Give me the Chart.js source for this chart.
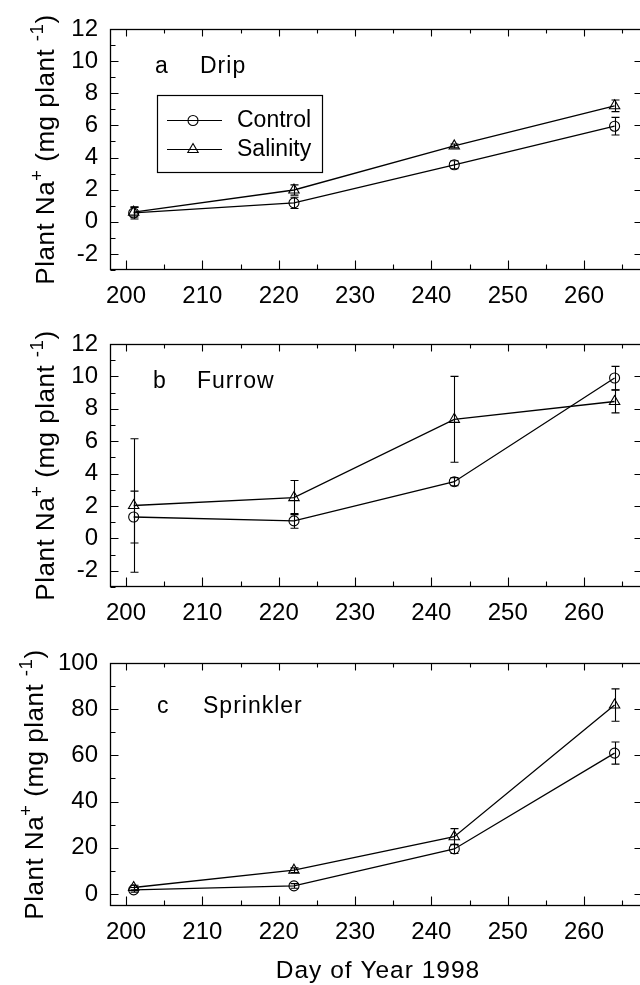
<!DOCTYPE html>
<html><head><meta charset="utf-8">
<script src="https://cdn.jsdelivr.net/npm/chart.js@4"></script>
<style>
html,body{margin:0;padding:0;background:#fff;}
#wrap{position:relative;width:640px;height:985px;overflow:hidden;background:#fff;}
.panel{position:absolute;left:0;width:640px;}
canvas{display:block;}
</style></head><body>
<div id="wrap">
 <div class="panel" style="top:0;height:320px"><canvas id="cA" width="640" height="320"></canvas></div>
 <div class="panel" style="top:320px;height:320px"><canvas id="cB" width="640" height="320"></canvas></div>
 <div class="panel" style="top:640px;height:345px"><canvas id="cC" width="640" height="345"></canvas></div>
</div>
<script>
// ---- data ----
const days = [201, 222, 243, 264];

const dripControl     = [0.55, 1.18, 3.55, 5.95];
const dripControlErr  = [0.38, 0.35, 0.25, 0.55];
const dripSalinity    = [0.60, 1.98, 4.72, 7.22];
const dripSalinityErr = [0.30, 0.32, 0.12, 0.36];

const furrowControl     = [1.32, 1.08, 3.50, 9.90];
const furrowControlErr  = [1.60, 0.45, 0.25, 0.72];
const furrowSalinity    = [2.03, 2.52, 7.35, 8.45];
const furrowSalinityErr = [4.12, 1.05, 2.65, 0.70];

const sprinklerControl     = [1.8, 3.5, 19.5, 61.0];
const sprinklerControlErr  = [1.0, 1.0, 2.0, 4.8];
const sprinklerSalinity    = [2.8, 10.3, 24.8, 81.8];
const sprinklerSalinityErr = [1.0, 1.0, 3.5, 7.0];

const seriesNames = ['Control', 'Salinity'];
const panelLetters = ['a', 'b', 'c'];
const panelNames = ['Drip', 'Furrow', 'Sprinkler'];

const xMajorTicks = [200, 210, 220, 230, 240, 250, 260];
const xMinorTicks = [205, 215, 225, 235, 245, 255, 265];
const yMajorTicksAB = [-2, 0, 2, 4, 6, 8, 10, 12];
const yMinorTicksAB = [-3, -1, 1, 3, 5, 7, 9, 11];
const yMajorTicksC = [0, 20, 40, 60, 80, 100];
const yMinorTicksC = [10, 30, 50, 70, 90];
const xAxisTitle = 'Day of Year 1998';

// ---- drawing ----
const FONT = '"Liberation Sans", Arial, Helvetica, sans-serif';

function seg(ctx, x1, y1, x2, y2) { ctx.moveTo(x1, y1); ctx.lineTo(x2, y2); }

function drawMarker(ctx, style, x, y, r) {
  ctx.beginPath();
  if (style === 'circle') {
    ctx.arc(x, y, r, 0, Math.PI * 2);
  } else {
    ctx.moveTo(x, y - r);
    ctx.lineTo(x + 0.866 * r, y + 0.5 * r);
    ctx.lineTo(x - 0.866 * r, y + 0.5 * r);
    ctx.closePath();
  }
  ctx.stroke();
}

function drawYTitle(ctx, xBase, cy) {
  const fs = 26;
  const parts = [['Plant Na', 1, 0], ['+', 0.72, 0.42], [' (mg plant ', 1, 0], ['-1', 0.72, 0.42], [')', 1, 0]];
  ctx.save();
  ctx.fillStyle = '#000';
  ctx.textBaseline = 'alphabetic';
  ctx.textAlign = 'left';
  try { ctx.letterSpacing = '0.5px'; } catch (e) {}
  let total = 0;
  const widths = parts.map(p => { ctx.font = (fs * p[1]) + 'px ' + FONT; const w = ctx.measureText(p[0]).width; total += w; return w; });
  ctx.translate(xBase, cy);
  ctx.rotate(-Math.PI / 2);
  let x = -total / 2;
  parts.forEach((p, i) => {
    ctx.font = (fs * p[1]) + 'px ' + FONT;
    ctx.fillText(p[0], x, -p[2] * fs);
    x += widths[i];
  });
  ctx.restore();
}

function makePanel(id, opt) {
  const ds = (name, ys, errs, style, r) => ({
    label: name,
    data: days.map((d, i) => ({ x: d, y: ys[i] })),
    errors: errs,
    borderColor: '#000',
    borderWidth: 1.3,
    backgroundColor: 'rgba(0,0,0,0)',
    pointStyle: style,
    pointRadius: r,
    pointBorderColor: '#000',
    pointBackgroundColor: 'rgba(0,0,0,0)',
    pointBorderWidth: 1.1,
    tension: 0,
    fill: false,
    clip: false
  });

  const plugin = {
    id: 'panelDecor' + id,
    beforeDatasetsDraw(chart) {
      const ctx = chart.ctx, ys = chart.scales.y;
      ctx.save();
      ctx.strokeStyle = '#000';
      ctx.lineWidth = 1.1;
      chart.data.datasets.forEach((d, di) => {
        const meta = chart.getDatasetMeta(di);
        d.errors.forEach((e, i) => {
          const pt = meta.data[i];
          const v = d.data[i].y;
          const y1 = ys.getPixelForValue(v + e), y2 = ys.getPixelForValue(v - e);
          const x = Math.round(pt.x) + 0.5;
          ctx.beginPath();
          seg(ctx, x, y1, x, y2);
          seg(ctx, x - 4, y1, x + 4, y1);
          seg(ctx, x - 4, y2, x + 4, y2);
          ctx.stroke();
        });
      });
      ctx.restore();
    },
    afterDraw(chart) {
      const ctx = chart.ctx, a = chart.chartArea, xs = chart.scales.x, ys = chart.scales.y;
      ctx.save();
      ctx.strokeStyle = '#000';
      ctx.lineWidth = 1.3;
      const L = Math.round(a.left) + 0.5, R = Math.round(a.right) - 0.5, T = Math.round(a.top) + 0.5, B = Math.round(a.bottom) - 0.5;
      ctx.strokeRect(L, T, R - L + 2, B - T);
      ctx.lineWidth = 1.1;
      ctx.beginPath();
      xMajorTicks.forEach(v => { const x = Math.round(xs.getPixelForValue(v)) + 0.5; seg(ctx, x, B, x, B - 9); seg(ctx, x, T, x, T + 7); });
      xMinorTicks.forEach(v => { const x = Math.round(xs.getPixelForValue(v)) + 0.5; seg(ctx, x, B, x, B - 5); seg(ctx, x, T, x, T + 4); });
      opt.yMajor.forEach(v => { const y = Math.round(ys.getPixelForValue(v)) + 0.5; seg(ctx, L, y, L + 8, y); seg(ctx, R + 1, y, R - 5, y); });
      opt.yMinor.forEach(v => { const y = Math.round(ys.getPixelForValue(v)) + 0.5; seg(ctx, L, y, L + 5, y); });
      ctx.stroke();

      // panel label
      ctx.fillStyle = '#000';
      ctx.font = '23px ' + FONT;
      try { ctx.letterSpacing = '1px'; } catch (e) {}
      ctx.textBaseline = 'alphabetic';
      ctx.textAlign = 'left';
      ctx.fillText(opt.letter, a.left + opt.labelDx[0], a.top + opt.labelDy);
      ctx.fillText(opt.name, a.left + opt.labelDx[1], a.top + opt.labelDy);
      try { ctx.letterSpacing = '0px'; } catch (e) {}

      // legend
      if (opt.legend) {
        ctx.lineWidth = 1.2;
        ctx.strokeRect(157.5, 95.5, 165, 77);
        const rows = [[120, 'circle', 5, seriesNames[0]], [149, 'triangle', 6, seriesNames[1]]];
        ctx.font = '23px ' + FONT;
        ctx.textBaseline = 'middle';
        rows.forEach(rw => {
          ctx.lineWidth = 1.2;
          ctx.beginPath(); seg(ctx, 167, rw[0] + 0.5, 222, rw[0] + 0.5); ctx.stroke();
          ctx.lineWidth = 1.1;
          drawMarker(ctx, rw[1], 193, rw[0] + 0.5, rw[2]);
          ctx.fillText(rw[3], 237, rw[0] + 1);
        });
      }

      // y title
      drawYTitle(ctx, opt.titleX, (a.top + a.bottom) / 2);

      // x title
      if (opt.xTitle) {
        ctx.font = '24.5px ' + FONT;
        try { ctx.letterSpacing = '1px'; } catch (e) {}
        ctx.textAlign = 'center';
        ctx.textBaseline = 'middle';
        ctx.fillText(xAxisTitle, 378, opt.xTitleY);
      }
      ctx.restore();
    }
  };

  return new Chart(document.getElementById(id), {
    type: 'line',
    data: { datasets: [ds(seriesNames[0], opt.ctrl, opt.ctrlErr, 'circle', 5), ds(seriesNames[1], opt.sal, opt.salErr, 'triangle', 6)] },
    options: {
      responsive: false,
      animation: false,
      layout: { autoPadding: false, padding: { top: opt.top, left: 0, right: 0, bottom: 0 } },
      plugins: { legend: { display: false }, tooltip: { enabled: false }, title: { display: false } },
      scales: {
        x: {
          type: 'linear', min: 197.9, max: 267.33,
          grid: { display: false, drawTicks: false },
          border: { display: false },
          afterBuildTicks: s => { s.ticks = xMajorTicks.map(v => ({ value: v })); },
          afterFit: s => { s.height = opt.xh; s.paddingLeft = 0; s.paddingRight = 0; },
          ticks: { color: '#000', font: { family: FONT, size: 24 }, padding: 12, maxRotation: 0, autoSkip: false, callback: v => String(v) }
        },
        y: {
          type: 'linear', min: opt.ymin, max: opt.ymax,
          grid: { display: false, drawTicks: false },
          border: { display: false },
          afterBuildTicks: s => { s.ticks = opt.yMajor.map(v => ({ value: v })); },
          afterFit: s => { s.width = 110; s.paddingTop = 0; s.paddingBottom = 0; },
          ticks: { color: '#000', font: { family: FONT, size: 24 }, padding: 12, autoSkip: false, callback: v => String(v) }
        }
      }
    },
    plugins: [plugin]
  });
}

makePanel('cA', { top: 29, xh: 50, ymin: -3, ymax: 12, yMajor: yMajorTicksAB, yMinor: yMinorTicksAB,
  ctrl: dripControl, ctrlErr: dripControlErr, sal: dripSalinity, salErr: dripSalinityErr,
  letter: panelLetters[0], name: panelNames[0], labelDx: [45, 90], labelDy: 44, legend: true, titleX: 54 });
makePanel('cB', { top: 24, xh: 53, ymin: -3, ymax: 12, yMajor: yMajorTicksAB, yMinor: yMinorTicksAB,
  ctrl: furrowControl, ctrlErr: furrowControlErr, sal: furrowSalinity, salErr: furrowSalinityErr,
  letter: panelLetters[1], name: panelNames[1], labelDx: [43, 87], labelDy: 44, titleX: 54 });
makePanel('cC', { top: 23, xh: 79, ymin: -5.2, ymax: 100, yMajor: yMajorTicksC, yMinor: yMinorTicksC,
  ctrl: sprinklerControl, ctrlErr: sprinklerControlErr, sal: sprinklerSalinity, salErr: sprinklerSalinityErr,
  letter: panelLetters[2], name: panelNames[2], labelDx: [47, 93], labelDy: 50, xTitle: true, xTitleY: 331, titleX: 43 });
</script>
</body></html>
